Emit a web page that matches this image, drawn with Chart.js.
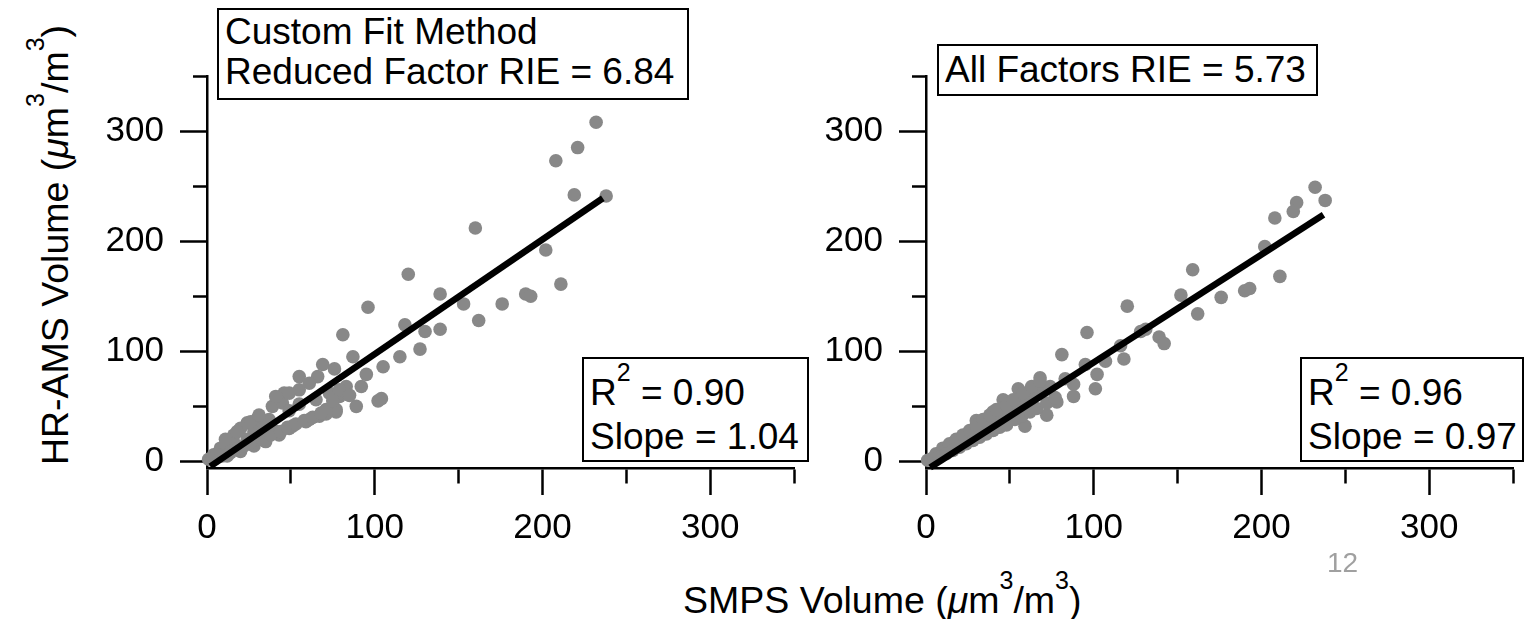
<!DOCTYPE html>
<html>
<head>
<meta charset="utf-8">
<script src="https://cdn.jsdelivr.net/npm/chart.js@4.4.1/dist/chart.umd.min.js"></script>
<style>
  body { margin: 0; width: 1526px; height: 619px; background: #fff; position: relative; overflow: hidden;
         font-family: "Liberation Sans", Arial, Helvetica, sans-serif; color: #000; }
  canvas { position: absolute; }
  .box { position: absolute; border: 2px solid #000; background: #fff; font-size: 37px; line-height: 40px;
         white-space: nowrap; box-sizing: border-box; padding-left: 6px; }
  .sup { font-size: 25px; vertical-align: 24px; line-height: 0; }
  .title { position: absolute; font-size: 37.5px; line-height: 40px; white-space: nowrap; }
</style>
</head>
<body>
<canvas id="left" width="714" height="508" style="left:100px;top:40px"></canvas>
<canvas id="right" width="707" height="508" style="left:819px;top:40px"></canvas>

<div class="box" style="left:217px;top:8px;width:472px;height:92px;padding-top:2px">Custom Fit Method<br>Reduced Factor RIE = 6.84</div>
<div class="box" style="left:937px;top:44px;width:381px;height:52px;padding-top:4px">All Factors RIE = 5.73</div>
<div class="box" style="left:582px;top:357px;width:227px;height:105px;padding-top:12px;line-height:44px">R<span class="sup">2</span> = 0.90<br>Slope = 1.04</div>
<div class="box" style="left:1300px;top:357px;width:224px;height:105px;padding-top:12px;line-height:44px">R<span class="sup">2</span> = 0.96<br>Slope = 0.97</div>

<div class="title" style="left:683px;top:580px">SMPS Volume (<i>μ</i>m<span class="sup">3</span>/m<span class="sup">3</span>)</div>
<div class="title" style="left:-195px;top:225px;width:500px;text-align:center;transform:rotate(-90deg)">HR-AMS Volume (<i>μ</i>m<span class="sup">3</span>/m<span class="sup">3</span>)</div>
<div style="position:absolute;left:1327px;top:547px;font-size:28px;color:#a0a0a0">12</div>

<script>
// custom fit method (left panel)
const leftX = [232, 221, 208, 219, 238, 160, 202, 211, 190, 193, 176, 162, 153, 139, 139, 130, 127, 120, 118, 115,
  96, 105, 95, 102, 104, 89, 81, 87, 83, 76, 69, 77, 79, 66, 55, 46, 39, 67, 30,
  55, 61, 45, 77, 77, 71, 59, 51, 43, 35, 28, 20, 12, 24, 20, 16, 12, 8, 4, 1,
  31, 37, 49, 55, 65, 73, 79, 41, 49, 61, 71, 75, 35, 28, 16, 24, 31, 39, 14, 8, 41, 49,
  11, 18, 26, 31, 5, 9, 14, 18, 22, 26, 33, 38, 44, 48, 53, 58, 63, 68, 85, 92, 6, 3];
const leftY = [308, 285, 273, 242, 241, 212, 192, 161, 152, 150, 143, 128, 143, 152, 120, 118, 102, 170, 124, 95,
  140, 86, 79, 55, 57, 50, 115, 95, 68, 84, 88, 45, 59, 77, 77, 62, 50, 41, 39,
  65, 71, 53, 58, 47, 47, 36, 32, 24, 18, 14, 9, 5, 35, 30, 24, 18, 12, 6, 2,
  30, 38, 46, 52, 56, 62, 65, 27, 30, 38, 43, 55, 36, 27, 17, 20, 23, 29, 11, 6, 59, 62,
  20, 27, 36, 42, 3, 5, 8, 11, 14, 17, 20, 24, 27, 31, 34, 37, 40, 44, 60, 68, 6, 1];

// all factors (right panel)
const rightX = [232, 238, 221, 219, 208, 202, 211, 159, 162, 152, 176, 190, 193, 120, 128, 131, 139, 142, 118, 116,
  107, 102, 101, 96, 95, 81, 88, 88, 83, 78, 68, 72, 55, 46, 40, 59, 30,
  1, 3, 5, 7, 9, 11, 13, 15, 17, 19, 21, 23, 25, 27, 29, 31, 33, 35, 37, 39, 42, 44, 47, 50, 53, 56, 60, 63, 66, 70, 74,
  6, 10, 14, 18, 22, 26, 30, 34, 38, 42, 48, 52, 58, 63, 68,
  8, 12, 16, 20, 24, 28, 32, 36, 40, 44, 48, 53, 57, 62, 66, 72, 77];
const rightY = [249, 237, 235, 227, 221, 195, 168, 174, 134, 151, 149, 155, 157, 141, 118, 120, 113, 107, 93, 105,
  91, 79, 66, 117, 88, 97, 70, 59, 75, 54, 76, 42, 66, 56, 45, 32, 37,
  1, 2, 4, 6, 8, 10, 12, 13, 15, 17, 19, 21, 22, 24, 27, 29, 31, 32, 34, 37, 39, 41, 43, 46, 49, 52, 55, 58, 62, 65, 68,
  7, 12, 16, 20, 24, 28, 33, 38, 42, 47, 51, 56, 62, 68, 73,
  4, 7, 10, 13, 16, 19, 22, 25, 28, 31, 33, 38, 41, 45, 48, 53, 58];

// fitted lines, end points
const leftFitX = [2, 236];
const leftFitY = [-4.5, 239];
const rightFitX = [2.5, 237];
const rightFitY = [-5.5, 224];

const majorTicks = [0, 100, 200, 300];

const tickFont = { family: '"Liberation Sans", Arial, Helvetica, sans-serif', size: 35 };
const isMinor = (c) => c.tick && majorTicks.indexOf(c.tick.value) < 0;

function makeChart(id, xs, ys, fx, fy, padRight) {
  const pts = xs.map((x, i) => ({ x: x, y: ys[i] }));
  const fit = fx.map((x, i) => ({ x: x, y: fy[i] }));
  return new Chart(document.getElementById(id), {
    type: 'scatter',
    data: {
      datasets: [
        { type: 'line', data: fit, borderColor: '#000', borderWidth: 6.5, pointRadius: 0,
          order: 0, clip: false, borderCapStyle: 'butt' },
        { data: pts, backgroundColor: '#888888', borderWidth: 0, pointRadius: 6.8,
          order: 1, clip: false }
      ]
    },
    options: {
      responsive: false,
      animation: false,
      events: [],
      layout: { padding: { top: 36, right: padRight, bottom: 0, left: 0 } },
      plugins: { legend: { display: false }, tooltip: { enabled: false } },
      scales: {
        x: {
          type: 'linear', min: 0, max: 350,
          afterFit: (s) => { s.height = 80; s.paddingLeft = 0; s.paddingRight = 0; },
          border: { display: true, color: '#000', width: 2.5 },
          grid: { drawOnChartArea: false, drawTicks: true, tickLength: 27, tickColor: '#000', tickWidth: 2.5,
                  tickBorderDash: (c) => isMinor(c) ? [14, 100] : [] },
          ticks: { stepSize: 50, includeBounds: false, autoSkip: false, maxRotation: 0, padding: 12,
                   color: '#000', font: tickFont,
                   callback: (v) => majorTicks.indexOf(v) >= 0 ? String(v) : '' }
        },
        y: {
          type: 'linear', min: -6, max: 350,
          afterFit: (s) => { s.width = 107; s.paddingTop = 0; s.paddingBottom = 0; },
          border: { display: true, color: '#000', width: 2.5 },
          grid: { drawOnChartArea: false, drawTicks: true, tickLength: 27, tickColor: '#000', tickWidth: 2.5,
                  tickBorderDash: (c) => isMinor(c) ? [0, 13, 14, 100] : [] },
          ticks: { stepSize: 50, includeBounds: false, autoSkip: false, padding: 16,
                   color: '#000', font: tickFont,
                   callback: (v) => majorTicks.indexOf(v) >= 0 ? String(v) : '' }
        }
      }
    }
  });
}

makeChart('left', leftX, leftY, leftFitX, leftFitY, 20);
makeChart('right', rightX, rightY, rightFitX, rightFitY, 13);
</script>
</body>
</html>
